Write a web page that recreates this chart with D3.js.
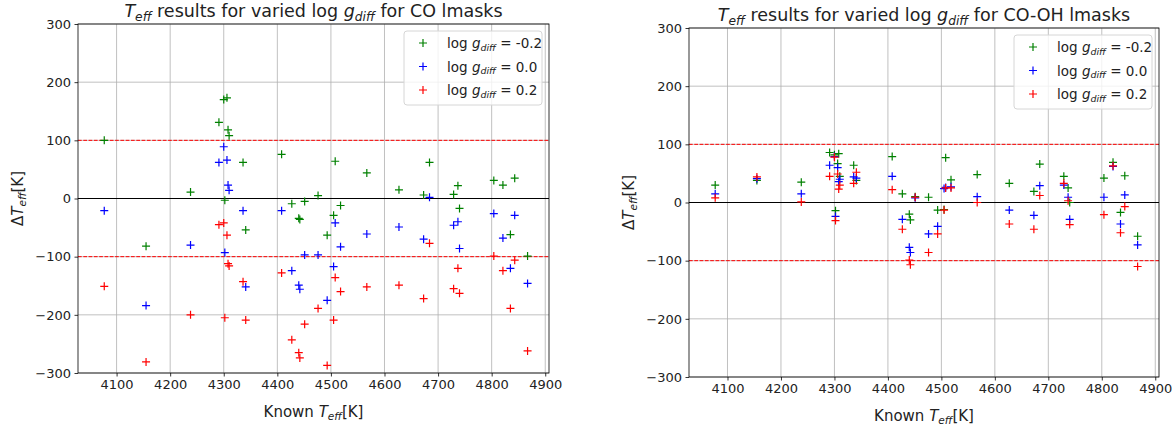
<!DOCTYPE html>
<html>
<head>
<meta charset="UTF-8">
<script src="https://d3js.org/d3.v7.min.js"></script>
<style>
  body { margin: 0; background: #fff; }
  svg text { font-family: "DejaVu Sans", sans-serif; fill: #222; }
</style>
</head>
<body>
<div id="chart"></div>
<script>
// known Teff of each star (shared by both panels)
const knownTeff = [4077, 4155, 4238, 4291, 4300, 4302, 4306, 4308, 4310, 4336, 4341, 4408, 4427, 4440, 4442, 4451, 4476,
  4493, 4505, 4508, 4518, 4567, 4627, 4673, 4684, 4729, 4737, 4740, 4804, 4821, 4835, 4843, 4867];

// CO lmasks: delta Teff for log g_diff = -0.2, 0.0, 0.2
const coMinus = [100, -82, 11, 131, 170, -3, 173, 118, 108, 62, -54, 76, -9, -34, -36, -5, 5,
  -63, -29, 64, -12, 44, 15, 6, 62, 7, 22, -17, 31, 23, -62, 35, -99];
const coZero = [-21, -184, -80, 62, 89, -93, 66, 23, 14, -21, -152, -21, -124, -149, -156, -97, -97,
  -175, -117, -42, -83, -61, -49, -70, 2, -46, -40, -86, -26, -68, -120, -29, -146];
const coPlus = [-151, -281, -200, -45, -42, -205, -63, -112, -116, -143, -209, -128, -243, -265, -274, -216, -189,
  -287, -209, -136, -160, -152, -149, -172, -77, -155, -120, -163, -99, -124, -189, -106, -262];

// CO-OH lmasks
const cohMinus = [30, 38, 35, 86, 82, -14, 67, 84, 45, 64, 38, 79, 15, -20, -30, 10, 9,
  -13, -12, 77, 39, 48, 33, 19, 66, 45, 25, 0, 42, 69, -17, 46, -58];
const cohZero = [15, 41, 15, 64, 79, -24, 60, 36, 40, 44, 42, 45, -29, -77, -86, 8, -54,
  -41, 24, 26, 27, 10, -13, -22, 29, 30, 9, -29, 9, 62, -37, 13, -73];
const cohPlus = [8, 44, 1, 45, 78, -31, 49, 23, 30, 33, 52, 22, -46, -99, -107, 9, -86,
  -54, -13, 25, 25, 0, -37, -46, 12, 33, 3, -38, -21, 63, -52, -7, -110];

const xTicks = [4100, 4200, 4300, 4400, 4500, 4600, 4700, 4800, 4900];
const yTicks = [-300, -200, -100, 0, 100, 200, 300];
const legendNames = ["-0.2", "0.0", "0.2"];
const colors = ["#008000", "#0000ff", "#ff0000"];

const svg = d3.select("#chart").append("svg")
  .attr("width", 1172).attr("height", 427);

// write text with italic / subscript pieces (mathtext look)
function mathText(t, parts, fs) {
  parts.forEach(([s, kind]) => {
    const ts = t.append("tspan").text(s);
    if (kind === "i") ts.attr("font-style", "italic");
    if (kind === "sub") {
      ts.attr("font-style", "italic").attr("font-size", fs * 0.7).attr("dy", fs * 0.22);
    }
    if (kind === "back") ts.attr("dy", -fs * 0.22);
  });
}

function panel(left, top, w, h, titleEnd, series) {
  const g = svg.append("g").attr("transform", `translate(${left},${top})`);
  const x = d3.scaleLinear().domain([4028, 4907]).range([0, w]);
  const y = d3.scaleLinear().domain([-300, 300]).range([h, 0]);

  // grid
  g.append("g").selectAll("line").data(xTicks).join("line")
    .attr("x1", d => x(d)).attr("x2", d => x(d)).attr("y1", 0).attr("y2", h)
    .attr("stroke", "#b0b0b0").attr("stroke-width", 0.8);
  g.append("g").selectAll("line").data(yTicks).join("line")
    .attr("x1", 0).attr("x2", w).attr("y1", d => y(d)).attr("y2", d => y(d))
    .attr("stroke", "#b0b0b0").attr("stroke-width", 0.8);

  // reference lines
  g.append("line").attr("x1", 0).attr("x2", w).attr("y1", y(0)).attr("y2", y(0))
    .attr("stroke", "#000").attr("stroke-width", 1);
  [100, -100].forEach(v => {
    g.append("line").attr("x1", 0).attr("x2", w).attr("y1", y(v)).attr("y2", y(v))
      .attr("stroke", "#ff0000").attr("stroke-width", 1).attr("stroke-dasharray", "3.7,1.6");
  });

  // points
  series.forEach((vals, si) => {
    g.append("g").selectAll("path").data(vals).join("path")
      .attr("d", (d, i) => {
        const px = x(knownTeff[i]), py = y(d);
        return `M${px - 4},${py}H${px + 4}M${px},${py - 4}V${py + 4}`;
      })
      .attr("stroke", colors[si]).attr("stroke-width", 1.2).attr("fill", "none");
  });

  // axes
  const ax = g.append("g").attr("transform", `translate(0,${h})`)
    .call(d3.axisBottom(x).tickValues(xTicks).tickSize(3.5).tickPadding(3.5).tickFormat(d3.format("d")));
  const ay = g.append("g")
    .call(d3.axisLeft(y).tickValues(yTicks).tickSize(3.5).tickPadding(3.5).tickFormat(d => d < 0 ? "\u2212" + Math.abs(d) : d));
  [ax, ay].forEach(a => {
    a.select(".domain").remove();
    a.selectAll("line").attr("stroke", "#000").attr("stroke-width", 0.8);
    a.selectAll("text").attr("font-size", 13).attr("font-family", "DejaVu Sans").attr("fill", "#222");
  });
  g.append("rect").attr("width", w).attr("height", h)
    .attr("fill", "none").attr("stroke", "#000").attr("stroke-width", 0.8);

  // title
  const tt = g.append("text").attr("x", w / 2).attr("y", -7).attr("text-anchor", "middle").attr("font-size", 17.5);
  mathText(tt, [["T", "i"], ["eff", "sub"], [" results for varied log ", "back"], ["g", "i"], ["diff", "sub"], [" for " + titleEnd + " lmasks", "back"]], 17.5);

  // axis labels
  const xl = g.append("text").attr("x", w / 2).attr("y", h + 44).attr("text-anchor", "middle").attr("font-size", 15);
  mathText(xl, [["Known ", "n"], ["T", "i"], ["eff", "sub"], ["[K]", "back"]], 15);
  const yl = g.append("text").attr("transform", `translate(-55,${h / 2}) rotate(-90)`)
    .attr("text-anchor", "middle").attr("font-size", 15);
  mathText(yl, [["\u0394", "n"], ["T", "i"], ["eff", "sub"], ["[K]", "back"]], 15);

  // legend
  const lg = g.append("g").attr("transform", `translate(${w - 145},7)`);
  lg.append("rect").attr("width", 138).attr("height", 74).attr("rx", 3)
    .attr("fill", "#fff").attr("fill-opacity", 0.8).attr("stroke", "#d6d6d6").attr("stroke-width", 1);
  legendNames.forEach((n, i) => {
    const cy = 12 + i * 23.5;
    lg.append("path").attr("d", `M15,${cy}H23M19,${cy - 4}V${cy + 4}`)
      .attr("stroke", colors[i]).attr("stroke-width", 1.2);
    const t = lg.append("text").attr("x", 43).attr("y", cy + 5).attr("font-size", 13.5);
    mathText(t, [["log ", "n"], ["g", "i"], ["diff", "sub"], [" = " + n, "back"]], 13.5);
  });
}

panel(78, 24, 471, 349, "CO", [coMinus, coZero, coPlus]);
panel(689, 28, 470, 349, "CO-OH", [cohMinus, cohZero, cohPlus]);
</script>
</body>
</html>
